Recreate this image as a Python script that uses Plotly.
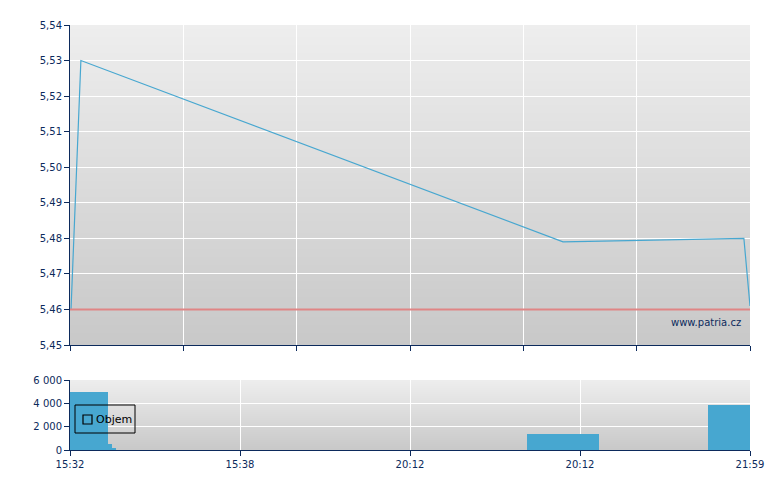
import plotly.graph_objects as go

# ---- data ----
price_x = [0.15, 1.6, 72.5, 99.1, 100.0]
price_y = [5.46, 5.53, 5.479, 5.480, 5.461]
prev_close = 5.46

vol_x_start = [0.0, 5.6, 6.2, 67.2, 93.8]
vol_x_end = [5.6, 6.2, 6.8, 77.8, 100.0]
vol_y = [5000, 500, 100, 1400, 3900]

tick_pos = [0, 25, 50, 75, 100]
tick_labels = ["15:32", "15:38", "20:12", "20:12", "21:59"]
legend_name = "Objem"
watermark = "www.patria.cz"

NAVY = "#0c2a5c"
BLUE = "#47a7d0"
FONT = "DejaVu Sans"

vol_centers = [(a + b) / 2 for a, b in zip(vol_x_start, vol_x_end)]
vol_widths = [b - a for a, b in zip(vol_x_start, vol_x_end)]

fig = go.Figure()

fig.add_trace(go.Scatter(x=price_x, y=price_y, mode="lines",
                         line=dict(color=BLUE, width=1.2),
                         showlegend=False, xaxis="x", yaxis="y"))
fig.add_trace(go.Scatter(x=[0, 100], y=[prev_close, prev_close], mode="lines",
                         line=dict(color="#e08585", width=2),
                         showlegend=False, xaxis="x", yaxis="y"))
fig.add_trace(go.Bar(x=vol_centers, y=vol_y, width=vol_widths,
                     marker=dict(color=BLUE, line=dict(width=0)),
                     showlegend=False, xaxis="x2", yaxis="y2"))

# gradient backgrounds
shapes = []
top_c = (238, 238, 238)
bot_c = (200, 200, 200)
for ax_x, ax_y, n in [("x", "y", 80), ("x2", "y2", 35)]:
    for i in range(n):
        t = (i + 0.5) / n
        c = tuple(int(round(bot_c[k] + (top_c[k] - bot_c[k]) * t)) for k in range(3))
        shapes.append(dict(type="rect", xref=f"{ax_x} domain", yref=f"{ax_y} domain",
                           x0=0, x1=1, y0=i / n, y1=min(1.0, (i + 2) / n),
                           fillcolor=f"rgb{c}", line=dict(width=0), layer="below"))

# custom legend box (paper coords; plot area 680 x 425 px)
def px_x(p):
    return (p - 70) / 680

def px_y(p):
    return (450 - p) / 425

shapes.append(dict(type="rect", xref="paper", yref="paper",
                   x0=px_x(75), x1=px_x(135), y0=px_y(433), y1=px_y(405),
                   line=dict(color="black", width=1), fillcolor="rgba(0,0,0,0)",
                   layer="above"))
shapes.append(dict(type="rect", xref="paper", yref="paper",
                   x0=px_x(83), x1=px_x(92), y0=px_y(424), y1=px_y(415),
                   line=dict(color="black", width=1.2), fillcolor="rgba(0,0,0,0)",
                   layer="above"))

top_dom = [(450 - 345) / 425, 1.0]
bot_dom = [0.0, (450 - 380) / 425]

common_x = dict(range=[0, 100], showline=True, linecolor=NAVY, linewidth=1,
                ticks="outside", tickcolor=NAVY, ticklen=5, zeroline=False,
                gridcolor="white", gridwidth=1.2,
                tickfont=dict(family=FONT, size=10, color=NAVY))

fig.update_layout(
    width=780, height=490,
    margin=dict(l=62, r=38, t=17, b=48),
    paper_bgcolor="white", plot_bgcolor="rgba(0,0,0,0)",
    separators=", ",
    font=dict(family=FONT, size=10, color=NAVY),
    shapes=shapes,
    showlegend=False,
    xaxis=dict(common_x, domain=[0, 1], anchor="y", tickmode="array",
               tickvals=[0, 100 / 6, 200 / 6, 50, 400 / 6, 500 / 6, 100],
               showticklabels=False),
    yaxis=dict(domain=top_dom, anchor="x", range=[5.45, 5.54], dtick=0.01,
               tick0=5.45, tickformat=".2f", showline=True, linecolor=NAVY,
               ticks="outside", tickcolor=NAVY, ticklen=5, gridcolor="white",
               gridwidth=1.2, zeroline=False,
               tickfont=dict(family=FONT, size=10, color=NAVY)),
    xaxis2=dict(common_x, domain=[0, 1], anchor="y2", tickmode="array",
                tickvals=tick_pos, ticktext=tick_labels),
    yaxis2=dict(domain=bot_dom, anchor="x2", range=[0, 6000], dtick=2000,
                tickformat=",d", showline=True, linecolor=NAVY,
                ticks="outside", tickcolor=NAVY, ticklen=5, gridcolor="white",
                gridwidth=1.2, zeroline=False,
                tickfont=dict(family=FONT, size=10, color=NAVY)),
    bargap=0,
    annotations=[
        dict(text=watermark, xref="x", yref="y", x=99, y=5.4562,
             xanchor="right", yanchor="middle", showarrow=False,
             font=dict(family=FONT, size=10, color=NAVY)),
        dict(text=legend_name, xref="paper", yref="paper", x=px_x(94), y=px_y(419.5),
             xanchor="left", yanchor="middle", showarrow=False,
             font=dict(family=FONT, size=11, color="black")),
    ],
)

fig.write_html("out.html")
